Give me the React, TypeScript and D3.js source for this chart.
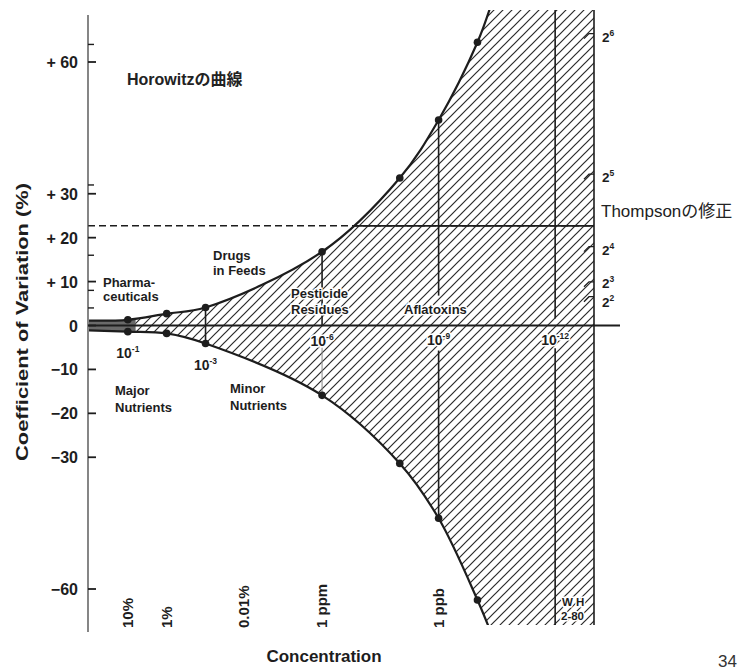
import * as d3 from "d3";

// concentration exponent (log10 C) and coefficient of variation (%) of the trumpet
const logC = [0, -1, -2, -3, -6, -8, -9, -10, -10.35];
const upperCV = [1.1, 1.3, 2.7, 4.1, 16.8, 33.6, 46.8, 64.5, 73];
const lowerCV = [-1.1, -1.4, -1.8, -4.1, -15.9, -31.4, -43.9, -62.5, -70];
const dotExp = [-1, -2, -3, -6, -8, -9, -10];

const yTicks = [60, 30, 20, 10, 0, -10, -20, -30, -60];
const yMinor = [64, 32, 16, 8, 4];
const rightMarkCV = [66, 34, 17.5, 9.5, 6.1];
const rightMarkExp = ["6", "5", "4", "3", "2"];

const decadeExp = [-1, -3, -6, -9, -12];
const decadeLabels = ["-1", "-3", "-6", "-9", "-12"];
const unitExp = [-1, -2, -4, -6, -9];
const unitLabels = ["10%", "1%", "0.01%", "1 ppm", "1 ppb"];

const thompsonCV = 22.7;

const W = 748;
const H = 671;
const plotTop = 10;
const plotBottom = 625;
const INK = "#1d1d1d";
const SANS = "'Liberation Sans', Arial, 'Noto Sans CJK JP', sans-serif";

const x = d3.scaleLinear().domain([0, -13]).range([89, 594]);
const y = d3.scaleLinear().domain([-60, 60]).range([589, 62]);

const curve = d3.curveCatmullRom.alpha(0.5);
const lineOf = (xs: number[]) =>
  d3.line<number>().x((_, i) => x(xs[i])).y((d) => y(d)).curve(curve);

const fmtTick = (v: number) => (v > 0 ? `+ ${v}` : v < 0 ? `\u2212${-v}` : "0");

const at = (exp: number, arr: number[]) => arr[logC.indexOf(exp)];

export default function App() {
  const upperPath = lineOf(logC)(upperCV) || "";
  const lowerPath = lineOf(logC)(lowerCV) || "";
  const revC = logC.slice().reverse();
  const lowerRev = (lineOf(revC)(lowerCV.slice().reverse()) || "").replace(/^M/, "L");
  const xr = x(-13);
  const regionD =
    upperPath + `L${xr},${plotTop - 30}L${xr},${plotBottom + 30}` + lowerRev + "Z";

  const halo = { stroke: "#fff", strokeWidth: 3, paintOrder: "stroke" as const };
  const label = (tx: number, ty: number, s: string, extra: any = {}) => (
    <text x={tx} y={ty} fontSize={13} fontWeight="bold" fill={INK} {...extra}>
      {s}
    </text>
  );

  const decadeY = [358, 370, 346, 345, 345];
  const rightDy = [6, 6, 6, 4, 8];

  return (
    <svg
      width={W}
      height={H}
      style={{ position: "absolute", left: 0, top: 0, background: "#fff" }}
      fontFamily={SANS}
    >
      <defs>
        <pattern id="hatch" patternUnits="userSpaceOnUse" width={9} height={9}>
          <path d="M0,9 L9,0 M-2,2 L2,-2 M7,11 L11,7" stroke="#2a2a2a" strokeWidth={1.2} />
        </pattern>
        <clipPath id="region">
          <path d={regionD} />
        </clipPath>
        <clipPath id="frame">
          <rect x={88} y={plotTop} width={xr - 88} height={plotBottom - plotTop} />
        </clipPath>
      </defs>

      <g clipPath="url(#frame)">
        <rect
          x={88}
          y={plotTop}
          width={xr - 88}
          height={plotBottom - plotTop}
          fill="url(#hatch)"
          clipPath="url(#region)"
        />
        <rect
          x={88}
          y={plotTop}
          width={x(-1.2) - 88}
          height={plotBottom - plotTop}
          fill="#6a6a6a"
          clipPath="url(#region)"
        />
      </g>

      {/* guide verticals */}
      <g stroke={INK} strokeWidth={1.6}>
        <line x1={x(-3)} x2={x(-3)} y1={y(at(-3, upperCV))} y2={y(at(-3, lowerCV))} />
        <line x1={x(-6)} x2={x(-6)} y1={y(at(-6, upperCV))} y2={y(0)} />
        <line x1={x(-6)} x2={x(-6)} y1={y(-5)} y2={y(at(-6, lowerCV))} stroke="#888" strokeWidth={1} />
        <line x1={x(-9)} x2={x(-9)} y1={y(at(-9, upperCV))} y2={y(6.8)} />
        <line x1={x(-9)} x2={x(-9)} y1={y(-5.7)} y2={y(at(-9, lowerCV))} />
        <line x1={x(-12)} x2={x(-12)} y1={plotTop} y2={y(1.6)} />
        <line x1={x(-12)} x2={x(-12)} y1={y(-5.2)} y2={plotBottom} />
        <line x1={xr} x2={xr} y1={plotTop} y2={plotBottom} />
      </g>

      {/* zero line */}
      <line x1={88} x2={620} y1={y(0)} y2={y(0)} stroke={INK} strokeWidth={2} />

      {/* Thompson limit */}
      <line
        x1={88}
        x2={xr}
        y1={y(thompsonCV)}
        y2={y(thompsonCV)}
        stroke={INK}
        strokeWidth={1.5}
        strokeDasharray="7,4"
      />
      <line
        x1={88}
        x2={xr}
        y1={y(thompsonCV)}
        y2={y(thompsonCV)}
        stroke={INK}
        strokeWidth={1.8}
        clipPath="url(#region)"
      />

      {/* curves */}
      <g clipPath="url(#frame)" fill="none" stroke={INK} strokeWidth={2.2}>
        <path d={upperPath} />
        <path d={lowerPath} />
      </g>
      <g fill={INK}>
        {dotExp.map((e) => (
          <g key={e}>
            <circle cx={x(e)} cy={y(at(e, upperCV))} r={3.8} />
            <circle cx={x(e)} cy={y(at(e, lowerCV))} r={3.8} />
          </g>
        ))}
      </g>

      {/* left axis */}
      <line x1={88} x2={88} y1={15} y2={632} stroke="#444" strokeWidth={1.3} />
      <g stroke={INK} strokeWidth={1.8}>
        {yTicks.map((t) => (
          <line key={t} x1={88} x2={96} y1={y(t)} y2={y(t)} />
        ))}
        {yMinor.map((t) => (
          <line key={t} x1={88} x2={94} y1={y(t)} y2={y(t)} strokeWidth={1.4} />
        ))}
      </g>
      <g fontSize={16} fontWeight="bold" fill={INK} textAnchor="end">
        {yTicks.map((t) => (
          <text key={t} x={78} y={y(t) + 6}>
            {fmtTick(t)}
          </text>
        ))}
      </g>
      <text
        transform="translate(28,322) rotate(-90)"
        textAnchor="middle"
        fontSize={17}
        fontWeight="bold"
        fill={INK}
        textLength={278}
        lengthAdjust="spacingAndGlyphs"
      >
        Coefficient of Variation (%)
      </text>

      {/* right marks */}
      <g stroke={INK} strokeWidth={1.3} fill="none">
        {rightMarkCV.map((v) => (
          <path key={v} d={`M${xr - 10},${y(v) + 3} L${xr - 5},${y(v) - 2} L${xr},${y(v) - 2}`} />
        ))}
      </g>
      <g fontSize={13.5} fontWeight="bold" fill={INK}>
        {rightMarkCV.map((v, i) => (
          <text key={v} x={xr + 8} y={y(v) + rightDy[i]}>
            2
            <tspan dy={-6} fontSize={8.5}>
              {rightMarkExp[i]}
            </tspan>
          </text>
        ))}
      </g>

      {/* decade labels */}
      <g fontSize={14} fontWeight="bold" fill={INK} textAnchor="middle">
        {decadeExp.map((e, i) => (
          <text key={e} x={x(e)} y={decadeY[i]} {...halo}>
            10
            <tspan dy={-6} fontSize={8.5}>
              {decadeLabels[i]}
            </tspan>
          </text>
        ))}
      </g>

      {/* concentration units */}
      <g fontSize={15} fontWeight="bold" fill={INK}>
        {unitExp.map((e, i) => (
          <text key={e} transform={`translate(${x(e) + 5},628) rotate(-90)`}>
            {unitLabels[i]}
          </text>
        ))}
      </g>

      {/* region labels */}
      {label(103, 287, "Pharma-")}
      {label(103, 301, "ceuticals")}
      {label(213, 260, "Drugs")}
      {label(213, 275, "in Feeds")}
      {label(291, 298, "Pesticide", halo)}
      {label(291, 314, "Residues", halo)}
      {label(404, 314, "Aflatoxins", halo)}
      {label(115, 395, "Major")}
      {label(115, 412, "Nutrients")}
      {label(230, 393, "Minor")}
      {label(230, 410, "Nutrients")}
      <g fontSize={11.5} fontWeight="bold" fill={INK} {...halo}>
        <text x={562} y={606}>W H</text>
        <text x={561} y={620}>2-80</text>
      </g>

      <text x={127} y={85} fontSize={16} fontWeight="bold" fill="#222">
        Horowitzの曲線
      </text>
      <text x={601} y={217} fontSize={17} fill="#222">
        Thompsonの修正
      </text>
      <text x={324} y={662} textAnchor="middle" fontSize={17} fontWeight="bold" fill={INK}>
        Concentration
      </text>
      <text x={718} y={667} fontSize={17} fill="#333">
        34
      </text>
    </svg>
  );
}
